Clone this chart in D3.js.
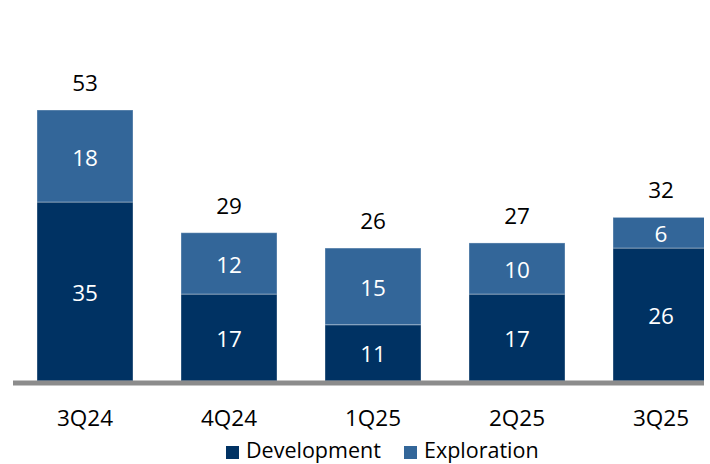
<!DOCTYPE html>
<html><head><meta charset="utf-8">
<script src="https://cdn.jsdelivr.net/npm/d3@7"></script>
<style>body{margin:0;background:#fff}svg{display:block;font-family:"Open Sans",sans-serif}</style>
</head><body><svg id="c" width="710" height="464"></svg>
<script>
const categories = ["3Q24","4Q24","1Q25","2Q25","3Q25"];
const development = [35,17,11,17,26];
const exploration = [18,12,15,10,6];
const totals = [53,29,26,27,32];
const seriesNames = ["Development","Exploration"];
const colors = ["#003263","#336699"];

const svg = d3.select("#c");
const x = d3.scaleBand().domain(categories).range([13,733]).paddingInner(1/3).paddingOuter(1/6);
const y = d3.scaleLinear().domain([0,53]).range([381,110]);

const data = categories.map((c,i)=>({cat:c, Development:development[i], Exploration:exploration[i], total:totals[i]}));
const stack = d3.stack().keys(seriesNames)(data);

svg.append("defs").append("clipPath").attr("id","clip").append("rect").attr("x",0).attr("y",0).attr("width",704).attr("height",464);
const g = svg.append("g").attr("clip-path","url(#clip)");

stack.forEach((s,si)=>{
  g.selectAll(null).data(s).enter().append("rect")
    .attr("x",d=>x(d.data.cat)).attr("width",x.bandwidth())
    .attr("y",d=>y(d[1])).attr("height",d=>y(d[0])-y(d[1]))
    .attr("fill",colors[si]).attr("stroke","#ffffff").attr("stroke-opacity",0.35).attr("stroke-width",1);
  g.selectAll(null).data(s).enter().append("text")
    .attr("x",d=>x(d.data.cat)+x.bandwidth()/2).attr("y",d=>(y(d[0])+y(d[1]))/2+1)
    .attr("text-anchor","middle").attr("dominant-baseline","central")
    .attr("fill","#fff").attr("font-size",22.5)
    .text(d=>d[1]-d[0]);
});

svg.selectAll(null).data(data).enter().append("text")
  .attr("x",d=>x(d.cat)+x.bandwidth()/2).attr("y",d=>y(d.total)-19)
  .attr("text-anchor","middle").attr("fill","#000").attr("font-size",22.5)
  .text(d=>d.total);

svg.append("line").attr("x1",13).attr("x2",704).attr("y1",383).attr("y2",383)
  .attr("stroke","#8c8c8c").attr("stroke-width",5);

const xAxis = d3.axisBottom(x).tickSize(0).tickPadding(0);
const ax = svg.append("g").attr("transform","translate(0,426)").call(xAxis);
ax.select(".domain").remove();
ax.selectAll("text").attr("font-size",22.5).attr("fill","#000").attr("dy",0).attr("font-family","Open Sans, sans-serif");

const legX = [226,404];
const leg = svg.selectAll(null).data(seriesNames).enter().append("g")
  .attr("transform",(d,i)=>`translate(${legX[i]},0)`);
leg.append("rect").attr("x",0).attr("y",446).attr("width",13).attr("height",13).attr("fill",(d,i)=>colors[i]);
leg.append("text").attr("x",20).attr("y",458).attr("font-size",21.5).attr("fill","#000").text(d=>d);
</script></body></html>
